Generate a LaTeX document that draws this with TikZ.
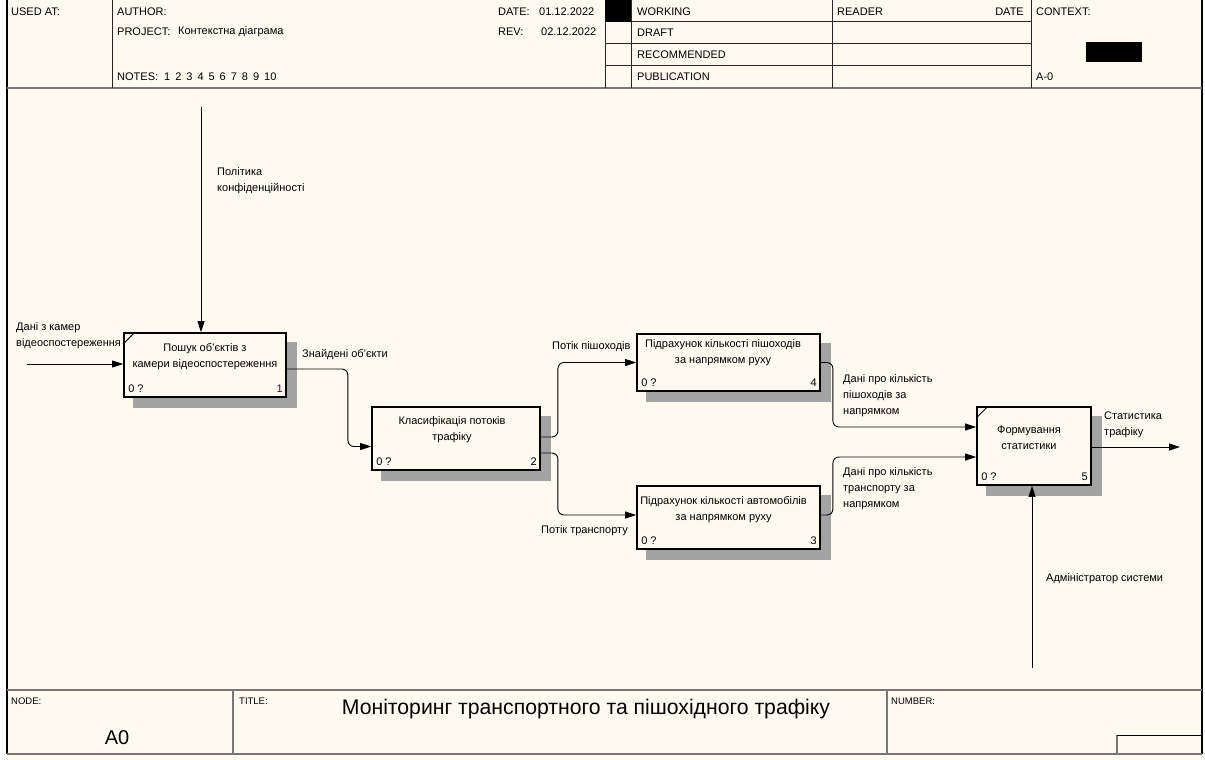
\documentclass[tikz,border=0pt]{standalone}
\usepackage{fontspec}
\setmainfont{Liberation Sans}
\usetikzlibrary{arrows.meta,calc}
\pgfdeclarelayer{bglayer}
\pgfdeclarelayer{shadowlayer}
\pgfsetlayers{bglayer,shadowlayer,main}
\definecolor{paper}{RGB}{255,250,240}
\definecolor{frameline}{RGB}{120,120,120}
\definecolor{numcol}{RGB}{80,0,80}
\begin{document}
\begin{tikzpicture}[x=1pt,y=-1pt,font=\fontsize{11}{16}\selectfont,
  box/.style={draw=black, line width=1.8pt, fill=paper, inner sep=0pt},
  boxtext/.style={align=center, inner sep=0pt},
  lbl/.style={align=left, anchor=west, inner sep=0pt},
  hdr/.style={anchor=west, inner sep=0pt},
  small/.style={anchor=west, inner sep=0pt, font=\fontsize{9.5}{11}\selectfont},
  arr/.style={line width=0.9pt, -{Triangle[length=11pt,width=7pt]}, rounded corners=6pt},
  shade/.style={fill=black!36},
  tick/.style={line width=1pt},
  hline/.style={line width=1pt, black!85},
  fline/.style={line width=2pt, frameline}]
\useasboundingbox (0,0) rectangle (1205,760);
\begin{pgfonlayer}{bglayer}
\fill[white] (0,0) rectangle (1205,760);
\fill[paper] (7,0) rectangle (1202,760);
\end{pgfonlayer}
% outer frame
\draw[line width=1.5pt] (7,0) -- (7,754);
\draw[line width=1.5pt] (1202,0) -- (1202,754);
% header
\draw[fline] (7,88) -- (1202,88);
\foreach \xx in {112,605,631,832,1031} \draw[hline] (\xx,0) -- (\xx,88);
\foreach \yy in {22,44,66} \draw[hline] (605,\yy) -- (1031,\yy);
\fill[black] (605,0) rectangle (631,22);
\fill[black] (1086,42) rectangle (1142,62);
\node[hdr] (usedat) at (11,12) {USED AT:};
\node[hdr] (author) at (117,12) {AUTHOR:};
\node[hdr] (project) at (117,32) {PROJECT:};
\node[hdr] (projname) at (178,32) {Контекстна діаграма};
\node[hdr] (notes) at (117,77) {NOTES:\hspace{6pt}1\hspace{5pt}2\hspace{5pt}3\hspace{5pt}4\hspace{5pt}5\hspace{5pt}6\hspace{5pt}7\hspace{5pt}8\hspace{5pt}9\hspace{5pt}10};
\node[hdr] (date) at (498,12) {DATE:};
\node[hdr] (dateval) at (539,12) {01.12.2022};
\node[hdr] (rev) at (498,32) {REV:};
\node[hdr] (revval) at (541,32) {02.12.2022};
\node[hdr] (working) at (637,12) {WORKING};
\node[hdr] (draft) at (637,33) {DRAFT};
\node[hdr] (recom) at (637,55) {RECOMMENDED};
\node[hdr] (publ) at (637,77) {PUBLICATION};
\node[hdr] (reader) at (837,12) {READER};
\node[anchor=east, inner sep=0pt] (rdate) at (1024,12) {DATE};
\node[hdr] (context) at (1036,12) {CONTEXT:};
\node[hdr] (azero) at (1036,77) {A-0};
% footer
\draw[fline] (7,690) -- (1202,690);
\draw[fline] (7,754) -- (1202,754);
\draw[fline] (233,690) -- (233,754);
\draw[fline] (887,690) -- (887,754);
\draw[fline] (1117,754) -- (1117,735);
\draw[line width=1pt] (1117,735) -- (1202,735);
\node[small] (nodelbl) at (11,701) {NODE:};
\node[small] (titlelbl) at (239,701) {TITLE:};
\node[small] (numlbl) at (891,701) {NUMBER:};
\node[inner sep=0pt, font=\fontsize{20}{24}\selectfont] (a0) at (117,738) {A0};
\node[inner sep=0pt, font=\fontsize{21.2}{25}\selectfont] (title) at (586,709) {Моніторинг транспортного та пішохідного трафіку};
% boxes
\node[box, minimum width=162, minimum height=64] (b1) at (205,365) {};
\node[box, minimum width=168, minimum height=63] (b2) at (456,438.5) {};
\node[box, minimum width=183, minimum height=57] (b4) at (728.5,362.5) {};
\node[box, minimum width=183, minimum height=63] (b3) at (728.5,517.5) {};
\node[box, minimum width=114, minimum height=78] (b5) at (1034,446) {};
\begin{pgfonlayer}{shadowlayer}
\foreach \b in {b1,b2,b3,b4,b5}
  \fill[shade] ($(\b.north west)+(10,10)$) rectangle ($(\b.south east)+(10,10)$);
\end{pgfonlayer}
\draw[tick] ($(b1.north west)+(0,12)$) -- ($(b1.north west)+(12,0)$);
\draw[tick] ($(b5.north west)+(0,12)$) -- ($(b5.north west)+(12,0)$);
% box texts
\node[boxtext] (t1) at (205,356.5) {Пошук об'єктів з\\камери відеоспостереження};
\node[boxtext] (t2) at (452,430) {Класифікація потоків\\трафіку};
\node[boxtext] (t4) at (723,353) {Підрахунок кількості пішоходів\\за напрямком руху};
\node[boxtext] (t3) at (723.5,510) {Підрахунок кількості автомобілів\\за напрямком руху};
\node[boxtext] (t5) at (1029,437.5) {Формування\\статистики};
\foreach \b/\n/\c in {b1/1/numcol,b2/2/black,b3/3/black,b4/4/black,b5/5/black}{
  \node[hdr] (z\b) at ($(\b.south west)+(5,-9)$) {0 ?};
  \node[anchor=east, inner sep=0pt, text=\c] (n\b) at ($(\b.south east)+(-4,-9)$) {\n};
}
% free ends
\coordinate (in1) at (27,364);
\coordinate (c1) at (201,107);
\coordinate (out1) at (1180,447);
\coordinate (m1) at (1032,668);
% connectors
\draw[arr] (in1) -- (b1.west |- in1);
\draw[arr] (c1) -- (c1 |- b1.north);
\draw[arr] ($(b1.east)+(0,4)$) -- ++(61,0) |- ($(b2.west)+(0,8)$);
\draw[arr] ($(b2.east)+(0,-1.5)$) -- ++(17,0) |- (b4.west);
\draw[arr] ($(b2.east)+(0,14.5)$) -- ++(17,0) |- ($(b3.west)+(0,-2.5)$);
\draw[arr] (b4.east) -- ++(12,0) |- ($(b5.west)+(0,-19)$);
\draw[arr] ($(b3.east)+(0,-2.5)$) -- ++(12,0) |- ($(b5.west)+(0,11)$);
\draw[arr] ($(b5.east)+(0,1)$) -- (out1);
\draw[arr] (m1) -- (m1 |- b5.south);
% connector labels
\node[lbl] (l1) at (16,336) {Дані з камер\\відеоспостереження};
\node[lbl] (l2) at (217,181) {Політика\\конфіденційності};
\node[lbl] (l3) at (302,355) {Знайдені об'єкти};
\node[lbl] (l4) at (552,347) {Потік пішоходів};
\node[lbl] (l5) at (541,531) {Потік транспорту};
\node[lbl] (l6) at (843,396) {Дані про кількість\\пішоходів за\\напрямком};
\node[lbl] (l7) at (843,489) {Дані про кількість\\транспорту за\\напрямком};
\node[lbl] (l8) at (1104,425) {Статистика\\трафіку};
\node[lbl] (l9) at (1046,579) {Адміністратор системи};
\end{tikzpicture}
\end{document}
